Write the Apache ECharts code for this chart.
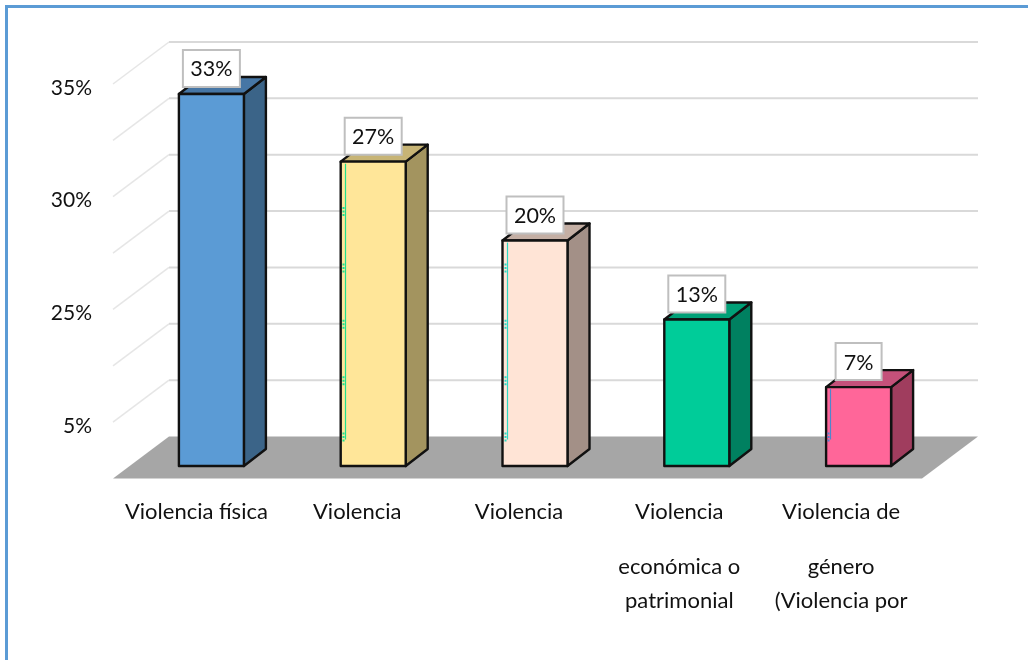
<!DOCTYPE html>
<html><head><meta charset="utf-8">
<style>html,body{margin:0;padding:0;background:#fff}#c{width:1028px;height:660px}</style>
<script src="https://cdn.jsdelivr.net/npm/echarts@6/dist/echarts.min.js"></script>
</head><body><div id="c"></div>
<script>
const categories = ['Violencia física','Violencia','Violencia','Violencia\neconómica o\npatrimonial','Violencia de\ngénero\n(Violencia por'];
const values = [33,27,20,13,7];
const tickValues = [0,5,10,15,20,25,30,35];
const tickLabels = {35:'35%',25:'30%',15:'25%',5:'5%'};
const frontColors = ['#5B9BD5','#FFE699','#FFE4D6','#00CC99','#FF6699'];
const sideColors  = ['#3B6488','#A3945F','#A39087','#008060','#A03D5E'];
const topColors   = ['#4676A5','#C7B475','#C4AFA4','#00A077','#C4517A'];
const traceColors = [null,'#1FE08F','#2FD8C4',null,'#4F86CC'];
const traceMarks  = [[],[0,5,10,15,20],[0,5,10,15],[],[0]];

const FONT = 'Lato, "Open Sans", sans-serif';
const DEPTH_X = 56, DEPTH_Y = -42;      // back plane offset of the 3D box
const MID_X = 17.5, MID_Y = -12.5;      // bars stand part-way into the floor
const SIDE_X = 22, SIDE_Y = -17, BAR_W = 65;

function renderWalls(params, api){
  const cs = params.coordSys, ch = [];
  const x0 = cs.x, x1 = cs.x + cs.width, yb = cs.y + cs.height;
  ch.push({type:'polygon',shape:{points:[[x0,yb],[x1,yb],[x1+DEPTH_X,yb+DEPTH_Y],[x0+DEPTH_X,yb+DEPTH_Y]]},style:{fill:'#A6A6A6'}});
  tickValues.forEach(v=>{
    const y = api.coord([0,v])[1];
    if(v>0){
      ch.push({type:'line',shape:{x1:x0,y1:y,x2:x0+DEPTH_X,y2:y+DEPTH_Y},style:{stroke:'#e6e6e6',lineWidth:1.5}});
      ch.push({type:'line',shape:{x1:x0+DEPTH_X,y1:y+DEPTH_Y,x2:x1+DEPTH_X,y2:y+DEPTH_Y},style:{stroke:'#d9d9d9',lineWidth:2}});
    }
  });
  return {type:'group',children:ch};
}

function renderBar(params, api){
  const i = api.value(0), v = api.value(1);
  const t = api.coord([i,v]), b = api.coord([i,0]);
  const l = t[0]+MID_X-BAR_W/2, r = l+BAR_W, yt = t[1]+MID_Y, yb = b[1]+MID_Y;
  const line = {stroke:'#111',lineWidth:2.4,lineJoin:'round'};
  const ch = [
    {type:'polygon',shape:{points:[[r,yt],[r+SIDE_X,yt+SIDE_Y],[r+SIDE_X,yb+SIDE_Y],[r,yb]]},style:{fill:sideColors[i],...line}},
    {type:'polygon',shape:{points:[[l,yt],[l+SIDE_X,yt+SIDE_Y],[r+SIDE_X,yt+SIDE_Y],[r,yt]]},style:{fill:topColors[i],...line}},
    {type:'rect',shape:{x:l,y:yt,width:BAR_W,height:yb-yt},style:{fill:frontColors[i],...line}}
  ];
  if(traceColors[i]){
    const baseY = b[1]+DEPTH_Y;
    const tx = Math.round(l+4)+0.5;
    ch.push({type:'line',shape:{x1:tx,y1:yt+2,x2:tx,y2:baseY+3},style:{stroke:traceColors[i],lineWidth:1.2}});
    traceMarks[i].forEach(m=>{
      const my = api.coord([i,m])[1]+DEPTH_Y;
      ch.push({type:'line',shape:{x1:tx-2,y1:my-4,x2:tx-2,y2:my+5},style:{stroke:traceColors[i],lineWidth:2,lineDash:[2,1.5]}});
    });
  }
  return {type:'group',children:ch};
}

function renderLabel(params, api){
  const i = api.value(0), v = api.value(1);
  const t = api.coord([i,v]);
  const cx = t[0]+MID_X, yt = t[1]+MID_Y;
  const txt = v+'%';
  const w = v<10 ? 46 : 57, h = 37;
  const top = yt-7-h;
  return {type:'group',children:[
    {type:'rect',shape:{x:cx-w/2,y:top,width:w,height:h},style:{fill:'#fff',stroke:'#bfbfbf',lineWidth:2}},
    {type:'text',style:{x:cx,y:top+h/2+1,text:txt,align:'center',verticalAlign:'middle',font:'21.5px '+FONT,fill:'#111'}}
  ]};
}

function axisText(value, index){
  const lines = value.split('\n');
  const tag = index===0 ? 'first' : (lines.length===1 ? 'one' : 'n');
  return lines.map((s,k)=>{
    const row = '{'+tag+'|'+s+'}';
    return k===0 && lines.length>1 ? row+'\n{gap|}' : row;
  }).join('\n');
}
const richText = {
  n:{fontFamily:FONT,fontSize:22,color:'#111',lineHeight:34},
  first:{fontFamily:FONT,fontSize:22,color:'#111',lineHeight:34,padding:[0,0,0,5]},
  one:{fontFamily:FONT,fontSize:22,color:'#111',lineHeight:34,padding:[0,0,0,3]},
  gap:{fontSize:1,lineHeight:21,height:21}
};

const chart = echarts.init(document.getElementById('c'),null,{renderer:'canvas'});
chart.setOption({
  animation:false,
  backgroundColor:'#fff',
  graphic:[
    {type:'line',shape:{x1:5,y1:6.5,x2:1028,y2:6.5},style:{stroke:'#5B9BD5',lineWidth:3},z:1},
    {type:'line',shape:{x1:6.5,y1:5,x2:6.5,y2:660},style:{stroke:'#5B9BD5',lineWidth:3},z:1}
  ],
  grid:{left:113,right:106,top:84,bottom:181.5},
  xAxis:{type:'category',data:categories,axisLine:{show:false},axisTick:{show:false},
    axisLabel:{interval:0,margin:16,formatter:axisText,rich:richText,align:'center'}},
  yAxis:{type:'value',min:0,max:35,interval:5,axisLine:{show:false},axisTick:{show:false},splitLine:{show:false},
    axisLabel:{margin:21,fontFamily:FONT,fontSize:21,color:'#111',verticalAlign:'top',lineHeight:8,
      formatter:v=>tickLabels[v]||''}},
  series:[
    {type:'custom',renderItem:renderWalls,data:[[0,0]],silent:true,z:1,clip:false},
    {type:'custom',renderItem:renderBar,data:values.map((v,i)=>[i,v]),silent:true,z:2,clip:false},
    {type:'custom',renderItem:renderLabel,data:values.map((v,i)=>[i,v]),silent:true,z:3,clip:false}
  ]
});
</script></body></html>
